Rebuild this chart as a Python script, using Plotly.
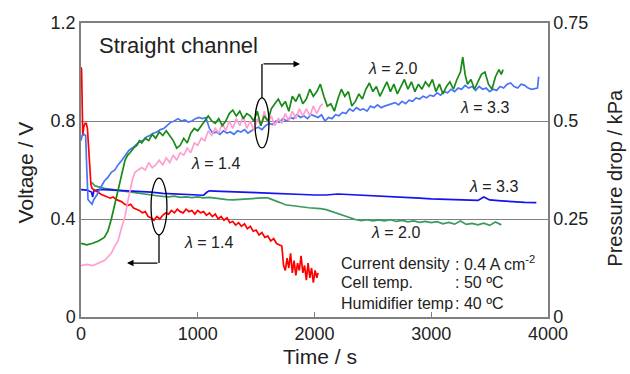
import plotly.graph_objects as go

# ---------------- data ----------------
# Cell voltage (V), left axis
v_lambda14 = [(0,1.02),(5,1.01),(15,0.74),(25,0.78),(35,0.79),(45,0.79),(55,0.77),(65,0.70),(75,0.60),(85,0.54),
 (95,0.525),(110,0.52),(130,0.515),(150,0.51),(175,0.50),(200,0.495),(225,0.49),(250,0.485),(275,0.49),(300,0.48),
 (325,0.475),(350,0.47),(375,0.46),(400,0.455),(425,0.46),(450,0.445),(475,0.44),(500,0.435),(525,0.425),(550,0.43),
 (575,0.41),(600,0.405),(625,0.395),(650,0.41),(675,0.40),(700,0.415),(725,0.425),(750,0.42),(775,0.435),(800,0.425),
 (825,0.44),(850,0.43),(875,0.425),(900,0.44),(925,0.43),(950,0.435),(975,0.42),(1000,0.435),(1025,0.425),(1050,0.43),
 (1075,0.415),(1100,0.425),(1125,0.41),(1150,0.42),(1175,0.40),(1200,0.41),(1225,0.395),(1250,0.405),(1275,0.385),
 (1300,0.39),(1325,0.375),(1350,0.385),(1375,0.37),(1400,0.38),(1425,0.36),(1450,0.37),(1475,0.35),(1500,0.355),
 (1525,0.335),(1550,0.345),(1575,0.325),(1600,0.33),(1625,0.31),(1650,0.32),(1675,0.30),(1700,0.295),(1720,0.29),
 (1735,0.21),(1750,0.19),(1765,0.24),(1780,0.20),(1795,0.26),(1810,0.18),(1825,0.23),(1840,0.17),(1855,0.22),
 (1870,0.19),(1885,0.25),(1900,0.18),(1915,0.21),(1930,0.15),(1945,0.22),(1960,0.16),(1975,0.20),(1990,0.14),
 (2005,0.19),(2020,0.16),(2030,0.18)]

v_lambda20 = [(90,0.55),(120,0.535),(160,0.53),(200,0.525),(250,0.522),(300,0.52),(350,0.515),(400,0.512),(450,0.508),
 (500,0.505),(550,0.50),(600,0.498),(650,0.495),(700,0.492),(750,0.49),(800,0.493),(850,0.488),(900,0.49),(950,0.487),
 (1000,0.49),(1050,0.486),(1100,0.488),(1150,0.484),(1200,0.482),(1250,0.479),(1300,0.478),(1350,0.48),(1400,0.483),
 (1450,0.485),(1500,0.484),(1550,0.486),(1600,0.486),(1650,0.478),(1700,0.468),(1750,0.458),(1800,0.456),(1850,0.452),
 (1900,0.449),(1950,0.446),(2000,0.445),(2050,0.442),(2100,0.438),(2150,0.43),(2200,0.423),(2250,0.415),(2300,0.405),
 (2350,0.398),(2400,0.393),(2450,0.397),(2500,0.392),(2550,0.396),(2600,0.392),(2650,0.397),(2700,0.39),(2750,0.394),
 (2800,0.388),(2850,0.392),(2900,0.386),(2950,0.39),(3000,0.385),(3050,0.389),(3100,0.38),(3150,0.386),(3200,0.379),
 (3250,0.392),(3300,0.378),(3350,0.382),(3400,0.376),(3450,0.383),(3500,0.374),(3550,0.388),(3600,0.376)]

v_lambda33 = [(0,0.52),(50,0.518),(90,0.51),(100,0.49),(110,0.515),(150,0.52),(200,0.52),(300,0.518),(400,0.515),
 (500,0.512),(600,0.51),(700,0.505),(800,0.503),(900,0.50),(1000,0.498),(1050,0.497),(1080,0.51),(1100,0.515),
 (1200,0.513),(1300,0.512),(1400,0.51),(1500,0.508),(1600,0.506),(1700,0.505),(1800,0.503),(1900,0.50),(2000,0.498),
 (2100,0.498),(2200,0.502),(2300,0.50),(2400,0.498),(2500,0.495),(2600,0.494),(2700,0.49),(2800,0.488),(2900,0.485),
 (3000,0.482),(3100,0.48),(3200,0.478),(3300,0.478),(3400,0.476),(3450,0.49),(3500,0.478),(3600,0.474),(3700,0.47),
 (3800,0.468),(3900,0.467)]

# Pressure drop (kPa), right axis
p_lambda14 = [(0,0.131),(50,0.134),(100,0.131),(150,0.138),(200,0.144),(230,0.153),(260,0.163),(290,0.181),(317,0.194),
 (345,0.225),(377,0.256),(400,0.294),(420,0.325),(440,0.35),(462,0.369),(490,0.375),(520,0.381),(550,0.375),(580,0.394),
 (610,0.381),(640,0.388),(670,0.40),(700,0.388),(730,0.406),(760,0.394),(790,0.413),(820,0.40),(850,0.419),(880,0.413),
 (910,0.431),(940,0.419),(970,0.444),(1000,0.438),(1030,0.456),(1060,0.45),(1090,0.475),(1120,0.463),(1150,0.481),
 (1180,0.469),(1210,0.494),(1240,0.475),(1270,0.50),(1300,0.481),(1330,0.506),(1360,0.488),(1390,0.513),(1420,0.481),
 (1450,0.50),(1480,0.475),(1510,0.506),(1540,0.488),(1570,0.525),(1600,0.494),(1630,0.513),(1660,0.488),(1690,0.506),
 (1720,0.494),(1750,0.519),(1780,0.50),(1810,0.525),(1840,0.506),(1870,0.531),(1900,0.513),(1930,0.531),(1960,0.513),
 (1990,0.538),(2020,0.519),(2050,0.538),(2070,0.544)]

p_lambda20 = [(0,0.188),(50,0.184),(100,0.188),(150,0.194),(200,0.203),(230,0.219),(260,0.25),(290,0.288),(317,0.325),
 (345,0.363),(377,0.40),(400,0.413),(420,0.419),(450,0.431),(480,0.438),(500,0.45),(520,0.444),(550,0.456),(580,0.45),
 (610,0.466),(640,0.456),(670,0.472),(700,0.463),(730,0.475),(760,0.463),(790,0.45),(820,0.431),(850,0.438),(880,0.456),
 (910,0.444),(940,0.469),(970,0.481),(1000,0.475),(1030,0.488),(1060,0.50),(1090,0.513),(1120,0.50),(1150,0.494),
 (1180,0.506),(1210,0.488),(1240,0.50),(1270,0.519),(1300,0.528),(1330,0.513),(1360,0.525),(1390,0.506),(1420,0.519),
 (1450,0.513),(1480,0.50),(1510,0.525),(1540,0.488),(1570,0.513),(1600,0.50),(1630,0.531),(1660,0.544),(1690,0.556),
 (1720,0.538),(1750,0.55),(1780,0.525),(1810,0.563),(1840,0.55),(1870,0.569),(1900,0.544),(1930,0.556),(1960,0.581),
 (1990,0.563),(2020,0.575),(2050,0.594),(2080,0.563),(2110,0.538),(2140,0.544),(2170,0.525),(2200,0.556),(2230,0.581),
 (2260,0.563),(2290,0.575),(2320,0.538),(2350,0.55),(2380,0.569),(2410,0.556),(2440,0.581),(2470,0.597),(2500,0.575),
 (2530,0.588),(2560,0.563),(2590,0.581),(2620,0.60),(2650,0.575),(2680,0.594),(2710,0.569),(2740,0.588),(2770,0.606),
 (2800,0.581),(2830,0.60),(2860,0.575),(2890,0.594),(2920,0.581),(2950,0.60),(2980,0.588),(3010,0.606),(3040,0.575),
 (3070,0.594),(3100,0.569),(3130,0.588),(3160,0.60),(3190,0.581),(3220,0.606),(3250,0.625),(3270,0.663),(3290,0.619),
 (3310,0.594),(3340,0.606),(3370,0.581),(3400,0.60),(3430,0.619),(3460,0.625),(3490,0.594),(3520,0.581),(3550,0.613),
 (3580,0.631),(3600,0.619),(3615,0.631)]

p_lambda33 = [(0,0.45),(10,0.463),(25,0.466),(40,0.463),(50,0.375),(60,0.30),(75,0.294),(95,0.288),(110,0.30),(140,0.313),
 (170,0.331),(200,0.347),(230,0.356),(260,0.369),(290,0.375),(317,0.388),(350,0.40),(380,0.413),(410,0.425),(440,0.431),
 (470,0.438),(500,0.447),(530,0.45),(560,0.459),(590,0.463),(620,0.469),(650,0.472),(680,0.478),(710,0.481),(740,0.488),
 (770,0.497),(800,0.50),(830,0.506),(860,0.50),(890,0.503),(920,0.497),(950,0.50),(980,0.506),(1010,0.509),(1040,0.506),
 (1070,0.509),(1100,0.481),(1130,0.469),(1160,0.472),(1190,0.466),(1220,0.475),(1250,0.469),(1280,0.472),(1310,0.466),
 (1340,0.475),(1370,0.472),(1400,0.478),(1430,0.469),(1460,0.475),(1490,0.481),(1520,0.484),(1550,0.478),(1580,0.488),
 (1610,0.494),(1640,0.491),(1670,0.50),(1700,0.497),(1730,0.506),(1760,0.50),(1790,0.509),(1820,0.506),(1850,0.516),
 (1880,0.509),(1910,0.513),(1940,0.506),(1970,0.516),(2000,0.513),(2030,0.509),(2060,0.516),(2090,0.50),(2120,0.509),
 (2150,0.506),(2180,0.516),(2210,0.513),(2240,0.522),(2270,0.519),(2300,0.531),(2330,0.525),(2360,0.534),(2390,0.528),
 (2420,0.531),(2450,0.525),(2480,0.538),(2510,0.534),(2540,0.541),(2570,0.534),(2600,0.538),(2630,0.541),(2660,0.544),
 (2690,0.547),(2720,0.541),(2750,0.55),(2780,0.544),(2810,0.553),(2840,0.55),(2870,0.559),(2900,0.556),(2930,0.563),
 (2960,0.559),(2990,0.566),(3020,0.563),(3050,0.572),(3080,0.566),(3110,0.575),(3140,0.572),(3170,0.581),(3200,0.575),
 (3230,0.584),(3260,0.581),(3290,0.591),(3320,0.584),(3350,0.588),(3380,0.578),(3410,0.588),(3440,0.581),(3470,0.584),
 (3500,0.575),(3530,0.581),(3560,0.578),(3590,0.588),(3620,0.584),(3650,0.594),(3680,0.597),(3710,0.588),(3740,0.584),
 (3770,0.594),(3800,0.591),(3830,0.584),(3860,0.581),(3890,0.584),(3910,0.584),(3920,0.613)]

x_ticks = [0, 1000, 2000, 3000, 4000]
y_ticks = [0, 0.4, 0.8, 1.2]
y_tick_text = ["0", "0.4", "0.8", "1.2"]
y2_ticks = [0, 0.25, 0.5, 0.75]
y2_tick_text = ["0", "0.25", "0.5", "0.75"]

FONT = "Arial, Liberation Sans, sans-serif"
GRAY = "#808080"

def xy(pairs):
    return [p[0] for p in pairs], [p[1] for p in pairs]

fig = go.Figure()

series = [
    (p_lambda33, "#4a74f5", "y2", "Pressure λ=3.3"),
    (p_lambda14, "#ff9fd0", "y2", "Pressure λ=1.4"),
    (p_lambda20, "#178a17", "y2", "Pressure λ=2.0"),
    (v_lambda20, "#3a9a5e", "y", "Voltage λ=2.0"),
    (v_lambda33, "#1414f0", "y", "Voltage λ=3.3"),
    (v_lambda14, "#ff0000", "y", "Voltage λ=1.4"),
]
for data, color, yax, name in series:
    xs, ys = xy(data)
    fig.add_trace(go.Scatter(x=xs, y=ys, mode="lines", yaxis=yax, name=name,
                             line=dict(color=color, width=1.7), showlegend=False))

ann_font = dict(family=FONT, size=16, color="#222")
annotations = [
    dict(xref="paper", yref="paper", x=0.034, y=0.925, text="Straight channel", showarrow=False,
         xanchor="left", yanchor="middle", font=dict(family=FONT, size=22, color="#222")),
    # axis titles
    dict(xref="paper", yref="paper", x=-0.118, y=0.4915, text="Voltage / V", textangle=-90,
         showarrow=False, xanchor="center", yanchor="middle",
         font=dict(family=FONT, size=21, color="#222")),
    dict(xref="paper", yref="paper", x=1.1435, y=0.474, text="Pressure drop / kPa", textangle=-90,
         showarrow=False, xanchor="center", yanchor="middle",
         font=dict(family=FONT, size=20, color="#222")),
    dict(xref="paper", yref="paper", x=0.512, y=-0.136, text="Time / s",
         showarrow=False, xanchor="center", yanchor="middle",
         font=dict(family=FONT, size=21, color="#222")),
]
labels = [
    dict(x=2664, y=1.016, text="<i>λ</i> = 2.0"),
    dict(x=3452, y=0.857, text="<i>λ</i> = 3.3"),
    dict(x=1156, y=0.628, text="<i>λ</i> = 1.4"),
    dict(x=3537, y=0.531, text="<i>λ</i> = 3.3"),
    dict(x=2690, y=0.343, text="<i>λ</i> = 2.0"),
    dict(x=1088, y=0.306, text="<i>λ</i> = 1.4"),
    dict(x=2210, y=0.22, text="Current density", xanchor="left"),
    dict(x=3190, y=0.22, text=": 0.4 A cm<sup>-2</sup>", xanchor="left"),
    dict(x=2210, y=0.139, text="Cell temp.", xanchor="left"),
    dict(x=3190, y=0.139, text=": 50 ºC", xanchor="left"),
    dict(x=2210, y=0.057, text="Humidifier temp", xanchor="left"),
    dict(x=3190, y=0.057, text=": 40 ºC", xanchor="left"),
]
for a in labels:
    a.setdefault("xref", "x")
    a.setdefault("yref", "y")
    a.setdefault("showarrow", False)
    a.setdefault("xanchor", "center")
    a.setdefault("yanchor", "middle")
    a.setdefault("font", ann_font)
annotations += labels

# arrows (horizontal parts)
annotations += [
    dict(xref="x", yref="y", axref="x", ayref="y", x=394, y=0.22, ax=668, ay=0.22, text="",
         showarrow=True, arrowhead=2, arrowsize=1, arrowwidth=1.3, arrowcolor="black"),
    dict(xref="x", yref="y", axref="x", ayref="y", x=1876, y=1.033, ax=1550, ay=1.033, text="",
         showarrow=True, arrowhead=2, arrowsize=1, arrowwidth=1.3, arrowcolor="black"),
]

shapes = [
    dict(type="circle", xref="x", yref="y", x0=600, x1=736, y0=0.335, y1=0.567,
         line=dict(color="black", width=1.3)),
    dict(type="circle", xref="x", yref="y", x0=1490, x1=1610, y0=0.69, y1=0.894,
         line=dict(color="black", width=1.3)),
    dict(type="line", xref="x", yref="y", x0=668, x1=668, y0=0.335, y1=0.22,
         line=dict(color="black", width=1.3)),
    dict(type="line", xref="x", yref="y", x0=1550, x1=1550, y0=0.894, y1=1.033,
         line=dict(color="black", width=1.3)),
]

fig.update_layout(
    width=630, height=374,
    margin=dict(l=81, r=82, t=23, b=57, autoexpand=False),
    paper_bgcolor="white", plot_bgcolor="white",
    font=dict(family=FONT, size=18, color="#222"),
    showlegend=False,
    annotations=annotations,
    shapes=shapes,
    xaxis=dict(range=[0, 4000], tickvals=x_ticks, ticktext=[str(t) for t in x_ticks],
               ticks="inside", ticklen=5, tickcolor=GRAY, tickwidth=1.3,
               showline=True, linecolor=GRAY, linewidth=1.5, mirror=True,
               showgrid=False, zeroline=False, automargin=False,
               tickfont=dict(size=18)),
    yaxis=dict(range=[0, 1.2], tickvals=y_ticks, ticktext=y_tick_text,
               showline=True, linecolor=GRAY, linewidth=1.5,
               showgrid=True, gridcolor=GRAY, gridwidth=1.3, zeroline=False,
               ticks="", automargin=False, tickfont=dict(size=18)),
    yaxis2=dict(range=[0, 0.75], tickvals=y2_ticks, ticktext=y2_tick_text,
                overlaying="y", side="right",
                showline=True, linecolor=GRAY, linewidth=1.5,
                showgrid=False, zeroline=False, ticks="", automargin=False,
                tickfont=dict(size=18)),
)

# remove the default 8px page margin so the 630x374 figure fills the window exactly
fig.write_html("out.html",
               config={"displayModeBar": False},
               post_script="document.body.style.margin='0';"
                           "document.documentElement.style.overflow='hidden';")
